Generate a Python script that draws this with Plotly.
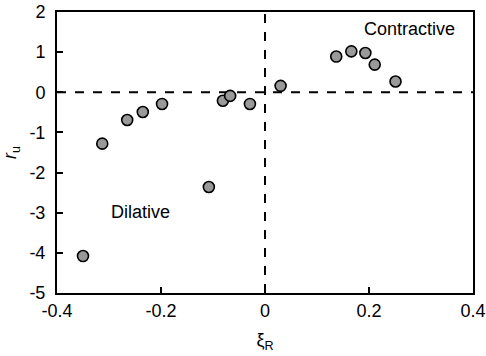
import plotly.graph_objects as go

xi_R = [-0.350, -0.313, -0.265, -0.235, -0.198, -0.108, -0.081, -0.067, -0.029,
        0.030, 0.137, 0.166, 0.193, 0.211, 0.251]
r_u = [-4.08, -1.28, -0.69, -0.49, -0.29, -2.36, -0.21, -0.09, -0.29,
       0.16, 0.89, 1.02, 0.98, 0.69, 0.27]

x_ticks = [-0.4, -0.2, 0, 0.2, 0.4]
x_tick_labels = ["-0.4", "-0.2", "0", "0.2", "0.4"]
y_ticks = [-5, -4, -3, -2, -1, 0, 1, 2]
y_tick_labels = ["-5", "-4", "-3", "-2", "-1", "0", "1", "2"]

font_family = "Liberation Sans, Arial, sans-serif"
fs = 18

fig = go.Figure()
fig.add_trace(go.Scatter(
    x=xi_R, y=r_u, mode="markers",
    marker=dict(size=11, color="#999999", line=dict(color="black", width=1.6)),
    showlegend=False, cliponaxis=False, hoverinfo="skip",
))

fig.add_shape(type="line", xref="x", yref="paper", x0=0, x1=0, y0=0, y1=1,
              line=dict(color="black", width=2, dash="dash"), layer="below")
fig.add_shape(type="line", xref="paper", yref="y", x0=0, x1=1, y0=0, y1=0,
              line=dict(color="black", width=2, dash="dash"), layer="below")

fig.add_annotation(x=0.278, y=1.58, xref="x", yref="y", text="Contractive",
                   showarrow=False, font=dict(size=fs, color="black", family=font_family))
fig.add_annotation(x=-0.240, y=-2.98, xref="x", yref="y", text="Dilative",
                   showarrow=False, font=dict(size=fs, color="black", family=font_family))

fig.update_layout(
    width=486, height=356,
    margin=dict(l=57, r=13, t=12, b=63),
    paper_bgcolor="white", plot_bgcolor="white",
    font=dict(family=font_family, size=fs, color="black"),
)
fig.update_xaxes(
    range=[-0.4, 0.4], tickvals=x_ticks, ticktext=x_tick_labels,
    ticks="inside", ticklen=6, tickwidth=2, tickcolor="black",
    showline=True, linecolor="black", linewidth=2, mirror=True,
    showgrid=False, zeroline=False, automargin=False,
    tickfont=dict(size=fs),
    title=dict(text="ξ<sub>R</sub>", font=dict(size=fs), standoff=14),
)
fig.update_yaxes(
    range=[-5, 2], tickvals=y_ticks, ticktext=y_tick_labels,
    ticks="inside", ticklen=6, tickwidth=2, tickcolor="black",
    showline=True, linecolor="black", linewidth=2, mirror=True,
    showgrid=False, zeroline=False, automargin=False,
    tickfont=dict(size=fs), ticklabelstandoff=6,
    title=dict(text="<i>r</i><sub>u</sub>", font=dict(size=fs), standoff=8),
)

fig.write_html("out.html",
               config={"displayModeBar": False, "staticPlot": True},
               post_script="document.body.style.margin='0';document.body.style.overflow='hidden';")
